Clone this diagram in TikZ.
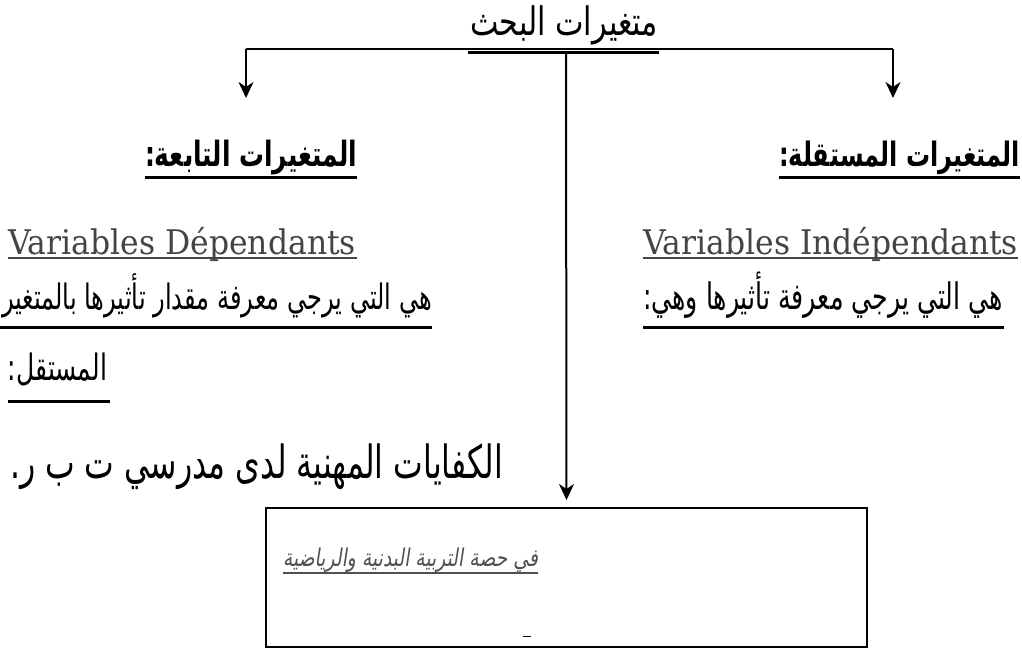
\documentclass[tikz,border=0pt]{standalone}
\usepackage{fontspec}
\usetikzlibrary{arrows.meta}
\TeXXeTstate=1
\newfontfamily\arfont[Script=Arabic]{DejaVu Sans}
\newfontfamily\arslant[Script=Arabic,FakeSlant=0.2]{DejaVu Sans}
\newfontfamily\latfont{DejaVu Serif}
\definecolor{latgray}{HTML}{444444}
\definecolor{boxgray}{HTML}{505050}
\newcommand{\fitw}[3]{\resizebox{#1pt}{!}{\scalebox{1}[#2]{#3}}}
\tikzset{
  txt/.style={inner sep=0pt, outer sep=0pt, anchor=base west},
  arr/.style={line width=2pt, -{Stealth[length=16pt,width=15pt,inset=5pt]}},
  conn/.style={line width=2pt},
  ulthick/.style={line width=3pt},
  ullat/.style={line width=2pt, latgray},
  boxstyle/.style={draw, line width=2pt, inner sep=0pt, minimum width=601pt, minimum height=139pt, anchor=north west}
}
\begin{document}
\begin{tikzpicture}[x=1pt,y=-1pt]
\useasboundingbox (0,0) rectangle (1022,648);
% title
\node[txt] (title) at (470,35) {\fitw{188}{1.3}{\arfont\beginR متغيرات البحث\endR}};
\draw[ulthick] (468,52) -- (659,52);
\coordinate (hl) at (246,49);
\coordinate (hr) at (893,49);
\coordinate (la) at (246,98);
\coordinate (ra) at (893,98);
\coordinate (vtop) at (566,52);
\draw[conn] (hl) -- (hr);
\draw[arr] (hl) -- (la);
\draw[arr] (hr) -- (ra);
% headers
\node[txt] (lh) at (145,166) {\fitw{212}{1.4}{\arfont\bfseries\beginR المتغيرات التابعة:\endR}};
\draw[ulthick] (145,177) -- (357,177);
\node[txt] (rh) at (779,166) {\fitw{241}{1.4}{\arfont\bfseries\beginR المتغيرات المستقلة:\endR}};
\draw[ulthick] (779,177) -- (1020,177);
% latin
\node[txt, text=latgray] (ld) at (8,254) {\fitw{348}{1.08}{\latfont Variables Dépendants}};
\draw[ullat] (8,258) -- (357,258);
\node[txt, text=latgray] (ri) at (643,254) {\fitw{375}{1.08}{\latfont Variables Indépendants}};
\draw[ullat] (643,258) -- (1018,258);
% descriptions
\node[txt] (rdesc) at (643,309) {\fitw{360}{1.45}{\arfont\beginR هي التي يرجي معرفة تأثيرها وهي:\endR}};
\draw[ulthick] (643,327) -- (1004,327);
\node[txt] (ldesc) at (2,309) {\fitw{430}{1.45}{\arfont\beginR هي التي يرجي معرفة مقدار تأثيرها بالمتغير\endR}};
\draw[ulthick] (0,327) -- (432,327);
\node[txt] (lmust) at (8,380) {\fitw{99}{1.45}{\arfont\beginR المستقل:\endR}};
\draw[ulthick] (8,401) -- (110,401);
\node[txt] (lbot) at (10,478) {\fitw{493}{1.45}{\arfont\beginR الكفايات المهنية لدى مدرسي ت ب ر.\endR}};
% box
\node[boxstyle] (box) at (265,507) {};
\draw[arr] (vtop) -- ([yshift=7pt]box.north);
\node[txt, text=boxgray] (btxt) at (283,566) {\fitw{255}{1.3}{\arslant\beginR في حصة التربية البدنية والرياضية\endR}};
\draw[line width=1.5pt, boxgray] (283,573) -- (538,573);
\draw[line width=1pt] (523,636) -- (531,636);
\end{tikzpicture}
\end{document}
